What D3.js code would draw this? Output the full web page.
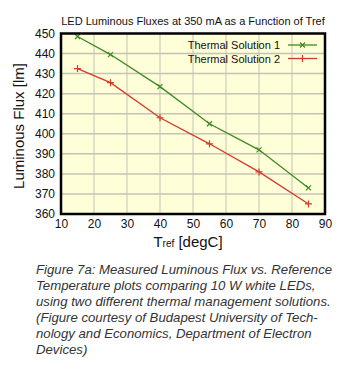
<!DOCTYPE html>
<html><head><meta charset="utf-8">
<script src="https://cdn.jsdelivr.net/npm/d3@7"></script>
<style>body{margin:0;background:#fff}svg{display:block}</style>
</head><body>
<svg id="c" width="361" height="370"></svg>
<script>
const temps = [15, 25, 40, 55, 70, 85];
const solution1 = [448.5, 439.5, 423.5, 405, 392, 373];
const solution2 = [432.5, 425.5, 408, 395, 381, 365];
const seriesNames = ["Thermal Solution 1", "Thermal Solution 2"];
const xTicks = [10, 20, 30, 40, 50, 60, 70, 80, 90];
const yTicks = [360, 370, 380, 390, 400, 410, 420, 430, 440, 450];
const title = "LED Luminous Fluxes at 350 mA as a Function of Tref";
const caption = [
  "Figure 7a: Measured Luminous Flux vs. Reference",
  "Temperature plots comparing 10 W white LEDs,",
  "using two different thermal management solutions.",
  "(Figure courtesy of Budapest University of Tech-",
  "nology and Economics, Department of Electron",
  "Devices)"
];

const svg = d3.select("#c");
const font = "Liberation Sans, Arial, sans-serif";
const x = d3.scaleLinear().domain([10, 90]).range([61, 325]);
const y = d3.scaleLinear().domain([360, 450]).range([214, 33.5]);

svg.append("rect").attr("x", x(10)).attr("y", y(450)).attr("width", x(90) - x(10)).attr("height", y(360) - y(450)).attr("fill", "#fefed8");

svg.append("g").selectAll("line").data(xTicks.slice(1, -1)).join("line")
  .attr("x1", d => x(d)).attr("x2", d => x(d)).attr("y1", y(450)).attr("y2", y(360))
  .attr("stroke", "#c4c4b4").attr("stroke-width", 1);
svg.append("g").selectAll("line").data(yTicks.slice(1, -1)).join("line")
  .attr("y1", d => y(d)).attr("y2", d => y(d)).attr("x1", x(10)).attr("x2", x(90))
  .attr("stroke", "#c4c4b4").attr("stroke-width", 1.5);

const xAxis = d3.axisBottom(x).tickValues(xTicks).tickSize(0).tickPadding(5);
const gx = svg.append("g").attr("transform", `translate(0,${y(360)})`).call(xAxis);
gx.select(".domain").remove();
gx.selectAll("text").attr("font-family", font).attr("font-size", 12).attr("fill", "#111");
const yAxis = d3.axisLeft(y).tickValues(yTicks).tickSize(0).tickPadding(6);
const gy = svg.append("g").attr("transform", `translate(${x(10)},0)`).call(yAxis);
gy.select(".domain").remove();
gy.selectAll("text").attr("font-family", font).attr("font-size", 12).attr("fill", "#111");

const colors = ["#3d8a22", "#d43a2a"];
const data = [solution1, solution2];
const line = d3.line().x((d, i) => x(temps[i])).y(d => y(d));
data.forEach((vals, si) => {
  svg.append("path").datum(vals).attr("d", line).attr("fill", "none")
    .attr("stroke", colors[si]).attr("stroke-width", 1.3);
  const g = svg.append("g");
  vals.forEach((v, i) => {
    const cx = x(temps[i]), cy = y(v);
    if (si === 0) {
      g.append("path").attr("d", `M${cx-2.5},${cy-2.5}L${cx+2.5},${cy+2.5}M${cx-2.5},${cy+2.5}L${cx+2.5},${cy-2.5}`)
        .attr("stroke", colors[si]).attr("stroke-width", 1.2);
    } else {
      g.append("path").attr("d", `M${cx-3.5},${cy}L${cx+3.5},${cy}M${cx},${cy-3.5}L${cx},${cy+3.5}`)
        .attr("stroke", colors[si]).attr("stroke-width", 1.2);
    }
  });
});

svg.append("rect").attr("x", x(10)).attr("y", y(450)).attr("width", x(90) - x(10)).attr("height", y(360) - y(450))
  .attr("fill", "none").attr("stroke", "#000").attr("stroke-width", 2.5);

seriesNames.forEach((n, i) => {
  const ly = 45 + i * 13.5;
  svg.append("text").attr("x", 280).attr("y", ly + 4).attr("text-anchor", "end")
    .attr("font-family", font).attr("font-size", 11).attr("fill", "#111").text(n);
  svg.append("line").attr("x1", 288).attr("x2", 317).attr("y1", ly).attr("y2", ly)
    .attr("stroke", colors[i]).attr("stroke-width", 1.3);
  const cx = 302.5;
  if (i === 0) {
    svg.append("path").attr("d", `M${cx-2.5},${ly-2.5}L${cx+2.5},${ly+2.5}M${cx-2.5},${ly+2.5}L${cx+2.5},${ly-2.5}`)
      .attr("stroke", colors[i]).attr("stroke-width", 1.2);
  } else {
    svg.append("path").attr("d", `M${cx},${ly-3.5}L${cx},${ly+3.5}`)
      .attr("stroke", colors[i]).attr("stroke-width", 1.2);
  }
});

svg.append("text").attr("x", 193).attr("y", 24.5).attr("text-anchor", "middle")
  .attr("font-family", font).attr("font-size", 11).attr("fill", "#111").text(title);

svg.append("text").attr("transform", "translate(24,126) rotate(-90)").attr("text-anchor", "middle")
  .attr("font-family", font).attr("font-size", 15).attr("fill", "#111").text("Luminous Flux [lm]");

const xl = svg.append("text").attr("x", 188).attr("y", 247).attr("text-anchor", "middle")
  .attr("font-family", font).attr("font-size", 15).attr("fill", "#111");
xl.append("tspan").text("T");
xl.append("tspan").attr("font-size", 10).text("ref");
xl.append("tspan").text(" [degC]");

svg.append("g").selectAll("text").data(caption).join("text")
  .attr("x", 36).attr("y", (d, i) => 273.5 + i * 16)
  .attr("font-family", font).attr("font-size", 13.2).attr("font-style", "italic").attr("fill", "#333")
  .text(d => d);
</script>
</body></html>
